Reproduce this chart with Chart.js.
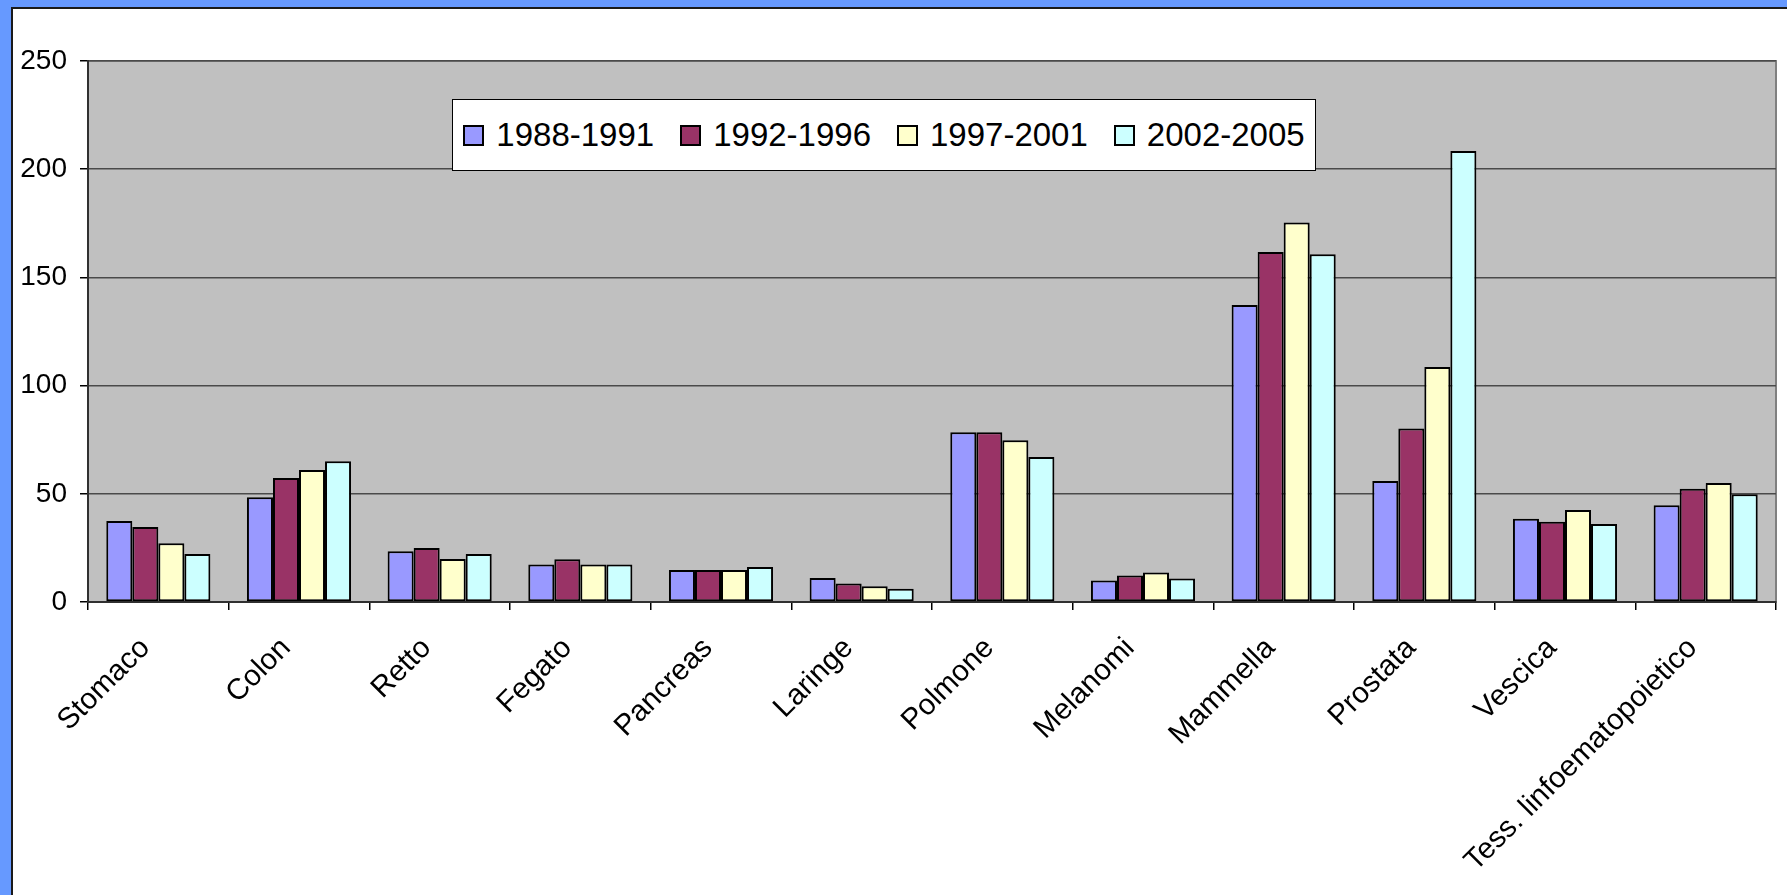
<!DOCTYPE html>
<html>
<head>
<meta charset="utf-8">
<title>Tumori 1988-2005</title>
<script src="https://cdn.jsdelivr.net/npm/chart.js@4.4.1/dist/chart.umd.min.js"></script>
<style>
  html, body { margin: 0; padding: 0; width: 1787px; height: 895px; overflow: hidden; background: #6699ff; }
  #frame { position: absolute; left: 11px; top: 7px; width: 1776px; height: 888px; background: #fff;
           border-left: 2px solid #1a1a1a; border-top: 2px solid #1a1a1a; box-sizing: border-box; }
  #chart { position: absolute; left: 0; top: 0; }
  #legend { position: absolute; left: 452px; top: 99px; width: 864px; height: 72px; box-sizing: border-box;
            background: #fff; border: 1px solid #000; display: flex; align-items: center; justify-content: center;
            font-family: "Liberation Sans", Arial, sans-serif; font-size: 33px; color: #000; }
  .item { display: flex; align-items: center; margin: 0 13px; white-space: nowrap; }
  .sw { width: 17px; height: 17px; border: 2px solid #000; margin-right: 12px; }
</style>
</head>
<body>
<div id="frame"><canvas id="chart" width="1774" height="886"></canvas></div>
<div id="legend"></div>
<script>
const categories = ['Stomaco', 'Colon', 'Retto', 'Fegato', 'Pancreas', 'Laringe', 'Polmone',
  'Melanomi', 'Mammella', 'Prostata', 'Vescica', 'Tess. linfoematopoietico'];
const periods = ['1988-1991', '1992-1996', '1997-2001', '2002-2005'];
const s1988 = [37.4, 48.4, 23.4, 17.3, 14.8, 11.1, 78.5, 9.9, 137.2, 55.9, 38.5, 44.7];
const s1992 = [34.7, 57.3, 24.9, 19.8, 14.8, 8.6, 78.5, 12.3, 161.7, 80.2, 37.1, 52.3];
const s1997 = [27.2, 61.0, 19.9, 17.3, 14.8, 7.3, 74.8, 13.6, 175.4, 108.6, 42.5, 55.0];
const s2002 = [22.2, 65.0, 22.2, 17.3, 16.2, 6.1, 67.0, 10.9, 160.7, 208.4, 36.0, 49.8];
const colors = ['#9999ff', '#993366', '#ffffcc', '#ccffff'];
const yTicks = [0, 50, 100, 150, 200, 250];

const FONT = '"Liberation Sans", Arial, sans-serif';

// sfondo grigio dell'area del grafico + bordo
const plotBg = {
  id: 'plotBg',
  beforeDraw(chart) {
    const { ctx, chartArea: a } = chart;
    ctx.save();
    ctx.fillStyle = '#c0c0c0';
    ctx.fillRect(a.left, a.top, a.right - a.left, a.bottom - a.top);
    ctx.strokeStyle = '#808080';
    ctx.lineWidth = 2;
    ctx.strokeRect(a.left, a.top, a.right - a.left, a.bottom - a.top);
    ctx.restore();
  }
};

const series = [s1988, s1992, s1997, s2002];
const chart = new Chart(document.getElementById('chart'), {
  type: 'bar',
  data: {
    labels: categories,
    datasets: series.map((d, i) => ({
      label: periods[i], data: d, backgroundColor: colors[i],
      borderColor: '#000', borderWidth: 2, borderSkipped: false,
      categoryPercentage: 0.74, barPercentage: 1.0
    }))
  },
  options: {
    responsive: false, animation: false, devicePixelRatio: 1,
    layout: { padding: { top: 52, right: 11, left: 0, bottom: 0 } },
    plugins: { legend: { display: false }, tooltip: { enabled: false } },
    scales: {
      x: {
        grid: { display: true, drawOnChartArea: false, drawTicks: true, tickLength: 8, tickColor: '#000', offset: true, lineWidth: 1.5 },
        border: { color: '#303030', width: 2 },
        ticks: { autoSkip: false, minRotation: 45, maxRotation: 45, padding: 21, labelOffset: -13,
                 color: '#000', font: { family: FONT, size: 29.5 } },
        afterFit: s => { s.height = 293; }
      },
      y: {
        min: 0, max: 250,
        grid: { color: '#4a4a4a', lineWidth: 1.5, tickLength: 8, tickColor: '#000' },
        border: { color: '#303030', width: 2 },
        afterBuildTicks: s => { s.ticks = yTicks.map(v => ({ value: v })); },
        ticks: { padding: 13, color: '#000', font: { family: FONT, size: 28 } },
        afterFit: s => { s.width = 75; }
      }
    }
  },
  plugins: [plotBg]
});

// legenda HTML dentro l'area del grafico
const leg = document.getElementById('legend');
chart.data.datasets.forEach(ds => {
  const it = document.createElement('div');
  it.className = 'item';
  it.innerHTML = `<span class="sw" style="background:${ds.backgroundColor}"></span>${ds.label}`;
  leg.appendChild(it);
});
</script>
</body>
</html>
